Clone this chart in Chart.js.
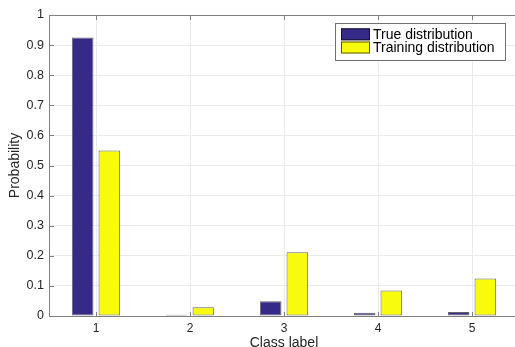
<!DOCTYPE html>
<html>
<head>
<meta charset="utf-8">
<script src="https://cdn.jsdelivr.net/npm/chart.js@4/dist/chart.umd.min.js"></script>
<style>
  html, body { margin: 0; padding: 0; overflow: hidden; background: #ffffff; width: 515px; height: 347px; }
  #wrap { position: absolute; left: 0; top: 0; width: 530px; height: 347px; }
</style>
</head>
<body>
<div id="wrap"><canvas id="c" width="530" height="347"></canvas></div>
<script>
const categories = ['1', '2', '3', '4', '5'];
const trueDistribution = [0.925, 0.004, 0.049, 0.011, 0.013];
const trainingDistribution = [0.550, 0.029, 0.212, 0.085, 0.125];
const seriesNames = ['True distribution', 'Training distribution'];
const yTickLabels = ['0', '0.1', '0.2', '0.3', '0.4', '0.5', '0.6', '0.7', '0.8', '0.9', '1'];
const xAxisTitle = 'Class label';
const yAxisTitle = 'Probability';

const FONT = '"Liberation Sans", Arial, Helvetica, sans-serif';
const TEXT = '#262626';
const FRAME = '#808080';

const framePlugin = {
  id: 'frame',
  afterDatasetsDraw(chart) {
    const { ctx, chartArea: a, scales } = chart;
    ctx.save();
    ctx.strokeStyle = FRAME;
    ctx.lineWidth = 1;
    const L = Math.round(a.left) + 0.5, R = Math.round(a.right) + 0.5;
    const T = Math.round(a.top) + 0.5, B = Math.round(a.bottom) + 0.5;
    ctx.beginPath();
    ctx.moveTo(L, T); ctx.lineTo(R, T);
    ctx.moveTo(L, T); ctx.lineTo(L, B);
    ctx.moveTo(L, B); ctx.lineTo(R, B);
    ctx.moveTo(R, T); ctx.lineTo(R, B);
    scales.y.ticks.forEach(t => {
      const y = Math.round(scales.y.getPixelForValue(t.value)) + 0.5;
      ctx.moveTo(L, y); ctx.lineTo(L + 4.5, y);
      ctx.moveTo(R, y); ctx.lineTo(R - 4.5, y);
    });
    categories.forEach((c, i) => {
      const x = Math.round(scales.x.getPixelForValue(i)) + 0.5;
      ctx.moveTo(x, T); ctx.lineTo(x, T + 4.5);
      ctx.moveTo(x, B); ctx.lineTo(x, B - 4.5);
    });
    ctx.stroke();
    ctx.restore();
  },
  afterDraw(chart) {
    const { ctx } = chart;
    const ds = chart.data.datasets;
    ctx.save();
    const bx = 335.5, by = 23.5, bw = 170, bh = 37;
    ctx.fillStyle = '#ffffff';
    ctx.fillRect(bx, by, bw, bh);
    ctx.strokeStyle = '#707070';
    ctx.lineWidth = 1;
    ctx.strokeRect(bx, by, bw, bh);
    ctx.font = '14px ' + FONT;
    ctx.textBaseline = 'middle';
    ctx.textAlign = 'left';
    const rows = [34.3, 47.5];
    ds.forEach((d, i) => {
      const cy = rows[i];
      ctx.fillStyle = d.backgroundColor;
      ctx.fillRect(341, cy - 6, 29, 12);
      ctx.strokeStyle = 'rgba(0,0,0,0.65)';
      ctx.strokeRect(341.5, cy - 5.5, 28, 11);
      ctx.fillStyle = '#000000';
      ctx.fillText(d.label, 373, cy + 0.5);
    });
    ctx.restore();
  }
};

new Chart(document.getElementById('c'), {
  type: 'bar',
  data: {
    labels: categories,
    datasets: [
      {
        label: seriesNames[0],
        data: trueDistribution,
        backgroundColor: '#352A87',
        borderColor: 'rgba(0,0,0,0.6)',
        borderWidth: 1,
        borderSkipped: false,
        barPercentage: 0.81,
        categoryPercentage: 0.568
      },
      {
        label: seriesNames[1],
        data: trainingDistribution,
        backgroundColor: '#F9FB0E',
        borderColor: 'rgba(0,0,0,0.6)',
        borderWidth: 1,
        borderSkipped: false,
        barPercentage: 0.81,
        categoryPercentage: 0.568
      }
    ]
  },
  options: {
    responsive: false,
    animation: false,
    devicePixelRatio: 1,
    layout: { padding: { top: 15, right: 11, left: 0, bottom: 0 } },
    plugins: {
      legend: { display: false },
      tooltip: { enabled: false }
    },
    scales: {
      x: {
        offset: true,
        grid: { display: true, offset: false, color: '#ebebeb', drawTicks: false },
        border: { display: false },
        ticks: { color: TEXT, font: { family: FONT, size: 12 }, padding: 5, maxRotation: 0 },
        title: { display: true, text: xAxisTitle, color: TEXT, font: { family: FONT, size: 14, lineHeight: 1.1 }, padding: { top: 0, bottom: -4 } },
        afterFit(s) { s.height = 31; }
      },
      y: {
        min: 0,
        max: 1,
        ticks: {
          stepSize: 0.1,
          color: TEXT,
          font: { family: FONT, size: 12.5 },
          padding: 5,
          callback: (v, i) => yTickLabels[i]
        },
        grid: { color: '#ebebeb', drawTicks: false },
        border: { display: false },
        title: { display: true, text: yAxisTitle, color: TEXT, font: { family: FONT, size: 14 }, padding: { top: 7, bottom: 0 } },
        afterFit(s) { s.width = 49; }
      }
    }
  },
  plugins: [framePlugin]
});
</script>
</body>
</html>
